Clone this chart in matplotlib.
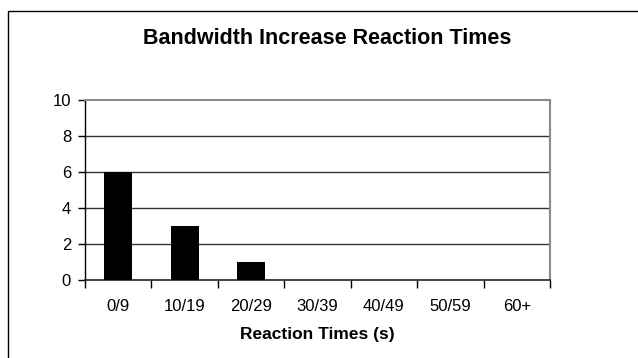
import matplotlib.pyplot as plt
from matplotlib.patches import Rectangle
from matplotlib.ticker import FixedLocator, NullFormatter
import numpy as np

categories = ['0/9', '10/19', '20/29', '30/39', '40/49', '50/59', '60+']
counts = [6, 3, 1, 0, 0, 0, 0]
y_ticks = [0, 2, 4, 6, 8, 10]

plt.rcParams['font.family'] = ['Liberation Sans', 'DejaVu Sans']

W, H = 638, 358
fig = plt.figure(figsize=(W / 100, H / 100), dpi=100)

# outer chart frame (runs off the right and bottom edges)
fig.patches.append(Rectangle((8 / W, -0.2), 1.2, 1 - 11 / H + 0.2,
                             transform=fig.transFigure, fill=False,
                             edgecolor='black', lw=1.0, zorder=0))

ax = fig.add_axes([85 / W, 1 - 280 / H, (550 - 85) / W, (280 - 100) / H])

x = np.arange(len(categories))
ax.bar(x, counts, width=0.42, color='black', zorder=3)

ax.set_xlim(-0.5, len(categories) - 0.5)
ax.set_ylim(0, 10)

# gridlines
for v in y_ticks[1:-1]:
    ax.axhline(v, color='#333333', lw=1.0, zorder=1)

ax.spines['top'].set_color('#8a8a8a')
ax.spines['right'].set_color('#8a8a8a')
ax.spines['top'].set_linewidth(1.5)
ax.spines['right'].set_linewidth(1.5)
ax.spines['left'].set_color('black')
ax.spines['bottom'].set_color('#222222')
ax.spines['left'].set_linewidth(1.0)
ax.spines['bottom'].set_linewidth(1.2)

ax.set_yticks(y_ticks)
ax.set_yticklabels([str(v) for v in y_ticks])
ax.tick_params(axis='y', direction='out', length=5, width=1, labelsize=12, pad=5)

# category labels centred, ticks at category boundaries
ax.set_xticks(x)
ax.set_xticklabels(categories)
ax.tick_params(axis='x', which='major', length=0, labelsize=12, pad=14)
ax.xaxis.set_minor_locator(FixedLocator(np.arange(-0.5, len(categories), 1.0)))
ax.xaxis.set_minor_formatter(NullFormatter())
ax.tick_params(axis='x', which='minor', direction='out', length=6, width=1)

ax.set_xlabel('Reaction Times (s)', fontsize=12.5, fontweight='bold', labelpad=9)

fig.text(327 / W, 1 - 38 / H, 'Bandwidth Increase Reaction Times',
         ha='center', va='center', fontsize=15.5, fontweight='bold')

fig.savefig('out.png', dpi=100)
